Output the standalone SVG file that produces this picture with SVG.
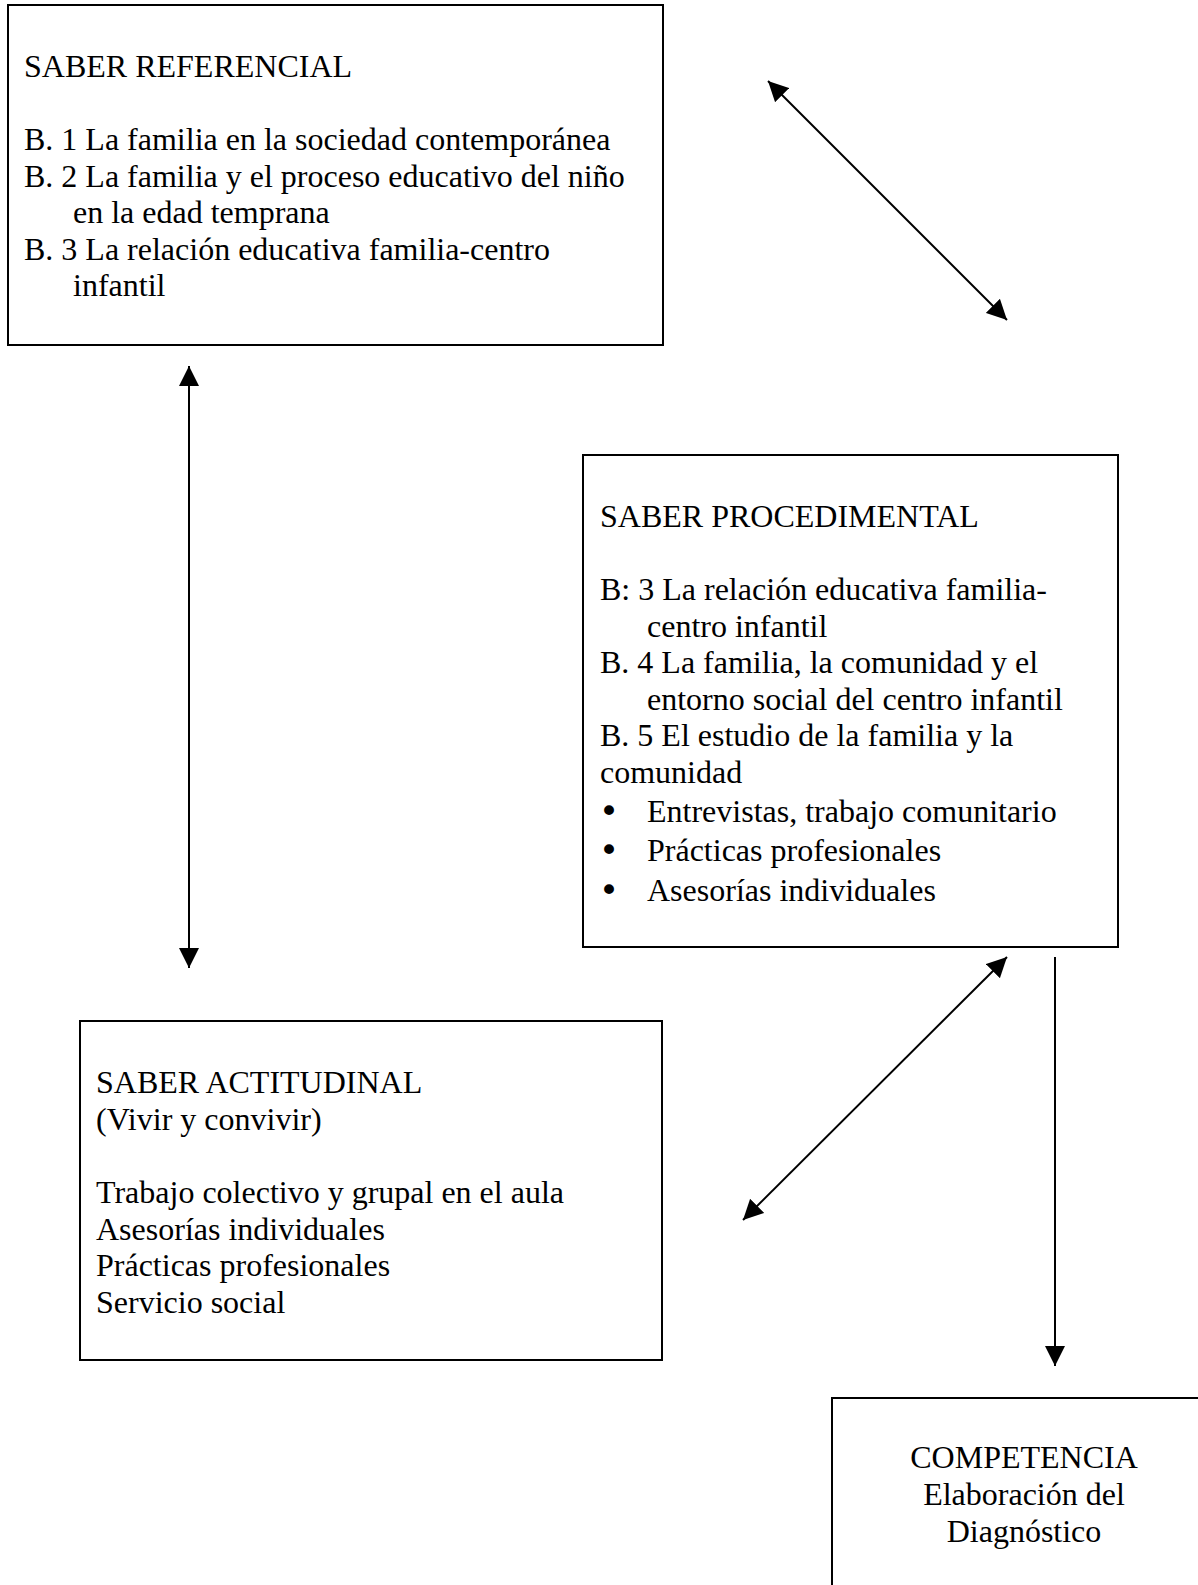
<svg xmlns="http://www.w3.org/2000/svg" width="1198" height="1585" viewBox="0 0 1198 1585">
<style>
.box{fill:#fff;stroke:#000;stroke-width:2}
.t{font-family:"Liberation Serif","Times New Roman",serif;font-size:32px;fill:#000}
.b{font-family:"DejaVu Sans",sans-serif;font-size:34px;fill:#000}
.c{text-anchor:middle}
.conn{stroke:#000;stroke-width:2;fill:none}
</style>
<defs>
<marker id="ah" markerUnits="userSpaceOnUse" markerWidth="20" markerHeight="20" refX="20" refY="10" orient="auto-start-reverse" viewBox="0 0 20 20">
<path d="M0,0 L20,10 L0,20 z" fill="#000"/>
</marker>
</defs>
<rect width="1198" height="1585" fill="#fff"/>
<g id="referencial">
<rect class="box" x="8" y="5" width="655" height="340"/>
<text class="t" x="24" y="77">SABER REFERENCIAL</text>
<text class="t" x="24" y="150">B. 1 La familia en la sociedad contemporánea</text>
<text class="t" x="24" y="186.5">B. 2 La familia y el proceso educativo del niño</text>
<text class="t" x="73" y="223">en la edad temprana</text>
<text class="t" x="24" y="259.5">B. 3 La relación educativa familia-centro</text>
<text class="t" x="73" y="296">infantil</text>
</g>
<g id="procedimental">
<rect class="box" x="583" y="455" width="535" height="492"/>
<text class="t" x="600" y="527">SABER PROCEDIMENTAL</text>
<text class="t" x="600" y="600">B: 3 La relación educativa familia-</text>
<text class="t" x="647" y="636.5">centro infantil</text>
<text class="t" x="600" y="673">B. 4 La familia, la comunidad y el</text>
<text class="t" x="647" y="709.5">entorno social del centro infantil</text>
<text class="t" x="600" y="746">B. 5 El estudio de la familia y la</text>
<text class="t" x="600" y="782.5">comunidad</text>
<text class="b" x="599" y="823">•</text>
<text class="t" x="647" y="822">Entrevistas, trabajo comunitario</text>
<text class="b" x="599" y="862">•</text>
<text class="t" x="647" y="861">Prácticas profesionales</text>
<text class="b" x="599" y="902">•</text>
<text class="t" x="647" y="901">Asesorías individuales</text>
</g>
<g id="actitudinal">
<rect class="box" x="80" y="1021" width="582" height="339"/>
<text class="t" x="96" y="1093">SABER ACTITUDINAL</text>
<text class="t" x="96" y="1129.5">(Vivir y convivir)</text>
<text class="t" x="96" y="1203">Trabajo colectivo y grupal en el aula</text>
<text class="t" x="96" y="1239.5">Asesorías individuales</text>
<text class="t" x="96" y="1276">Prácticas profesionales</text>
<text class="t" x="96" y="1312.5">Servicio social</text>
</g>
<g id="competencia">
<rect class="box" x="832" y="1398" width="400" height="300"/>
<text class="t c" x="1024" y="1468">COMPETENCIA</text>
<text class="t c" x="1024" y="1505">Elaboración del</text>
<text class="t c" x="1024" y="1542">Diagnóstico</text>
</g>
<g id="connectors">
<line class="conn" x1="768" y1="81" x2="1007" y2="320" marker-start="url(#ah)" marker-end="url(#ah)"/>
<line class="conn" x1="189" y1="366" x2="189" y2="968" marker-start="url(#ah)" marker-end="url(#ah)"/>
<line class="conn" x1="1007" y1="957" x2="743" y2="1220" marker-start="url(#ah)" marker-end="url(#ah)"/>
<line class="conn" x1="1055" y1="957" x2="1055" y2="1366" marker-end="url(#ah)"/>
</g>
</svg>
